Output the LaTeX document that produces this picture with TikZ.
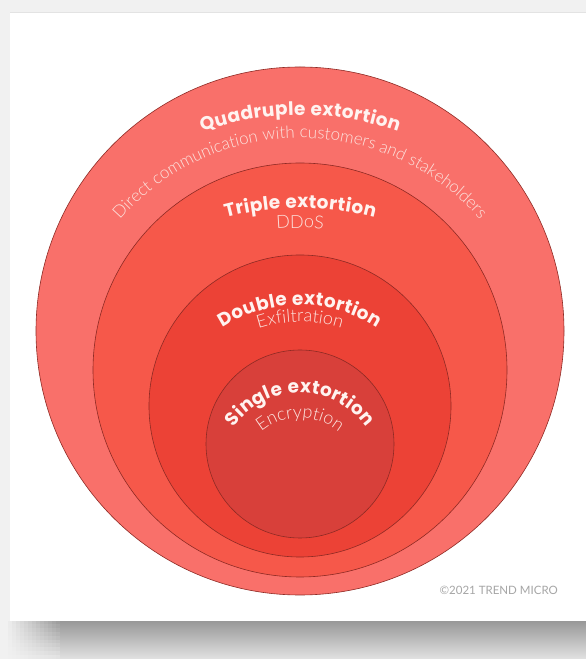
\documentclass[tikz,border=0pt]{standalone}
\usepackage{fontspec}
\usetikzlibrary{decorations.text,calc}
\newfontfamily\titlefont{Poppins}
\newfontfamily\lightfont{Lato}[UprightFont={* Light}]
\newfontfamily\markfont{Lato}
\newcommand\ringhead{\titlefont\bfseries\fontsize{18.5}{21}\selectfont\kern0.4pt}
\newcommand\ringsub{\lightfont\fontsize{18}{20}\selectfont}
\newcommand\ringsubsmall{\lightfont\fontsize{17}{19}\selectfont}

\definecolor{ringA}{HTML}{F9706A}
\definecolor{ringB}{HTML}{F6584A}
\definecolor{ringC}{HTML}{EC4236}
\definecolor{ringD}{HTML}{D8403A}
\definecolor{rimline}{HTML}{8E2A24}
\definecolor{headtext}{HTML}{FFF3F0}
\definecolor{subtext}{HTML}{FCE2DD}
\definecolor{pagebg}{HTML}{F1F1F1}
\definecolor{shadowtop}{HTML}{989898}
\definecolor{shadowbot}{HTML}{E2E2E2}
\definecolor{marktext}{HTML}{A6A6A6}

\tikzset{
  ring/.style={circle, draw=rimline, line width=0.6pt, inner sep=0pt, outer sep=0pt},
  headline/.style={decorate, decoration={text along path, text align=center,
      text color=headtext, text={|\ringhead|#1}}},
  subline/.style={decorate, decoration={text along path, text align=center,
      text color=subtext, text={|\ringsub|#1}}},
  longsubline/.style={decorate, decoration={text along path, text align=center,
      text color=subtext, text={|\ringsubsmall|#1}}},
}

\begin{document}
\begin{tikzpicture}[x=1pt,y=1pt]
  \useasboundingbox (0,0) rectangle (586,659);
  % page, card and the soft shadow under it
  \fill[pagebg] (0,0) rectangle (586,659);
  \fill[top color=shadowtop, bottom color=shadowbot] (60,0) rectangle (586,38);
  % left end of the shadow: a grid of flat tiles fading into the page
  \foreach \i in {0,...,12}{
    \foreach \j in {0,...,9}{
      \pgfmathtruncatemacro\rowmix{100-\j*11}
      \pgfmathtruncatemacro\colmix{(\i+1)*100/14}
      \colorlet{shadetile}{shadowtop!\rowmix!shadowbot}
      \fill[shadetile!\colmix!pagebg] ({8+4*\i},{38-3.8*(\j+1)}) rectangle ({12.3+4*\i},{38-3.8*\j+0.3});
    }
  }
  \fill[white] (10,38) rectangle (586,646);
  \draw[gray!22, line width=1pt] (10,646.5) -- (586,646.5);

  % nested rings
  \node[ring, fill=ringA, minimum size=528pt] (quad)   at (300,328) {};
  \node[ring, fill=ringB, minimum size=414pt] (triple) at (300,289) {};
  \node[ring, fill=ringC, minimum size=302pt] (double) at (300,253) {};
  \node[ring, fill=ringD, minimum size=188pt] (single) at (300,215) {};

  % centres of the curved labels
  \coordinate (qh) at (300,249);
  \coordinate (qs) at (300,282);
  \coordinate (th) at (300,162);
  \coordinate (dh) at (300,211);
  \coordinate (ds) at (300,203);
  \coordinate (sh) at (300,185);
  \coordinate (ss) at (300,180);

  \path[headline={Quadruple extortion}]
    ([shift={(125:295)}]qh) arc[start angle=125, end angle=55, radius=295];
  \path[longsubline={Direct communication with customers and stakeholders}]
    ([shift={(160:239)}]qs) arc[start angle=160, end angle=20, radius=239];

  \path[headline={Triple extortion}]
    ([shift={(120:289)}]th) arc[start angle=120, end angle=60, radius=289];
  \path[subline={DDoS}]
    ([shift={(105:269)}]th) arc[start angle=105, end angle=75, radius=269];

  \path[headline={Double extortion}]
    ([shift={(170:143)}]dh) arc[start angle=170, end angle=10, radius=143];
  \path[subline={Exfiltration}]
    ([shift={(150:134)}]ds) arc[start angle=150, end angle=30, radius=134];

  \path[headline={Single extortion}]
    ([shift={(178:81)}]sh) arc[start angle=178, end angle=2, radius=81];
  \path[subline={Encryption}]
    ([shift={(175:61)}]ss) arc[start angle=175, end angle=5, radius=61];

  \node[anchor=base east, text=marktext, font=\markfont\fontsize{11.5}{13}\selectfont,
        inner sep=0pt] (mark) at (558,64) {©2021 TREND MICRO};
\end{tikzpicture}
\end{document}
